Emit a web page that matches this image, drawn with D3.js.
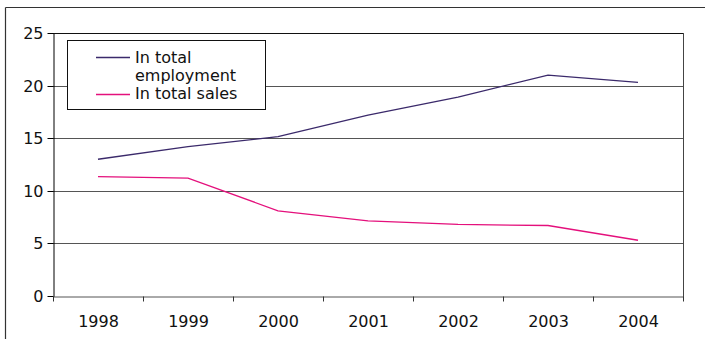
<!DOCTYPE html>
<html><head><meta charset="utf-8">
<script src="https://cdn.jsdelivr.net/npm/d3@7/dist/d3.min.js"></script>
<style>html,body{margin:0;padding:0;background:#fff;}svg{display:block;}</style>
</head><body>
<svg id="chart" width="705" height="339"></svg>
<script>
const years = ["1998","1999","2000","2001","2002","2003","2004"];
const employment = [13.0, 14.2, 15.15, 17.2, 18.9, 21.0, 20.3];
const sales = [11.35, 11.2, 8.1, 7.15, 6.8, 6.7, 5.3];
const yTicks = [0, 5, 10, 15, 20, 25];
const seriesNames = ["In total employment", "In total sales"];
const seriesColors = ["#3b2a6b", "#e4107c"];

const svg = d3.select("#chart");
const font = "DejaVu Sans";
const m = {left: 53, top: 33, right: 683, bottom: 296};

// outer frame
svg.append("line").attr("x1",5.5).attr("x2",5.5).attr("y1",7.5).attr("y2",339).attr("stroke","#333").attr("stroke-width",1.2);
svg.append("line").attr("x1",5.5).attr("x2",705).attr("y1",7.5).attr("y2",7.5).attr("stroke","#333").attr("stroke-width",1.2);

const x = d3.scaleBand().domain(years).range([m.left, m.right]);
const y = d3.scaleLinear().domain([0, 25]).range([m.bottom, m.top]);

// gridlines
svg.append("g").selectAll("line").data(yTicks.filter(d=>d>0)).join("line")
  .attr("x1", m.left).attr("x2", m.right)
  .attr("y1", d=>Math.round(y(d))+0.5).attr("y2", d=>Math.round(y(d))+0.5)
  .attr("stroke", d=> d===25 ? "#111" : "#555").attr("stroke-width", 1);
// right border
svg.append("line").attr("x1", m.right+0.5).attr("x2", m.right+0.5).attr("y1", m.top).attr("y2", m.bottom+5)
  .attr("stroke","#444");

// y axis
const yAxis = svg.append("g").attr("transform",`translate(${m.left+0.5},0.5)`)
  .call(d3.axisLeft(y).tickValues(yTicks).tickSize(6).tickPadding(4).tickSizeOuter(0));
yAxis.select(".domain").attr("stroke","#000");
yAxis.selectAll(".tick line").attr("stroke","#000");
yAxis.selectAll("text").attr("font-family",font).attr("font-size",16).attr("fill","#111");
yAxis.selectAll(".tick").attr("transform", d=>`translate(0,${Math.round(y(d))})`);

// x axis
const xAxis = svg.append("g").attr("transform",`translate(0.5,${Math.round(m.bottom)+0.5})`)
  .call(d3.axisBottom(x).tickSize(0).tickPadding(19).tickSizeOuter(0));
xAxis.select(".domain").attr("stroke","#555");
xAxis.selectAll("text").attr("font-family",font).attr("font-size",16).attr("fill","#111");
// boundary ticks
const bounds = years.map(d=>x(d)).concat([m.right]);
xAxis.append("g").selectAll("line").data(bounds).join("line")
  .attr("x1", d=>d).attr("x2", d=>d).attr("y1",0).attr("y2",5).attr("stroke","#333");

// lines
const line = d3.line().x((d,i)=>x(years[i])+x.bandwidth()/2).y(d=>y(d));
[employment, sales].forEach((s,i)=>{
  svg.append("path").datum(s).attr("d", line).attr("fill","none")
    .attr("stroke", seriesColors[i]).attr("stroke-width",1.3);
});

// legend
const lg = svg.append("g");
lg.append("rect").attr("x",67.5).attr("y",40.5).attr("width",198).attr("height",69)
  .attr("fill","#fff").attr("stroke","#111").attr("stroke-width",1);
lg.append("line").attr("x1",96).attr("x2",130).attr("y1",57.5).attr("y2",57.5).attr("stroke",seriesColors[0]).attr("stroke-width",1.3);
lg.append("line").attr("x1",96).attr("x2",130).attr("y1",94.5).attr("y2",94.5).attr("stroke",seriesColors[1]).attr("stroke-width",1.3);
const t1 = lg.append("text").attr("font-family",font).attr("font-size",16).attr("fill","#111");
t1.append("tspan").attr("x",135).attr("y",63).text("In total");
t1.append("tspan").attr("x",135).attr("y",81).text("employment");
lg.append("text").attr("x",135).attr("y",99).attr("font-family",font).attr("font-size",16).attr("fill","#111").text(seriesNames[1]);
</script>
</body></html>
